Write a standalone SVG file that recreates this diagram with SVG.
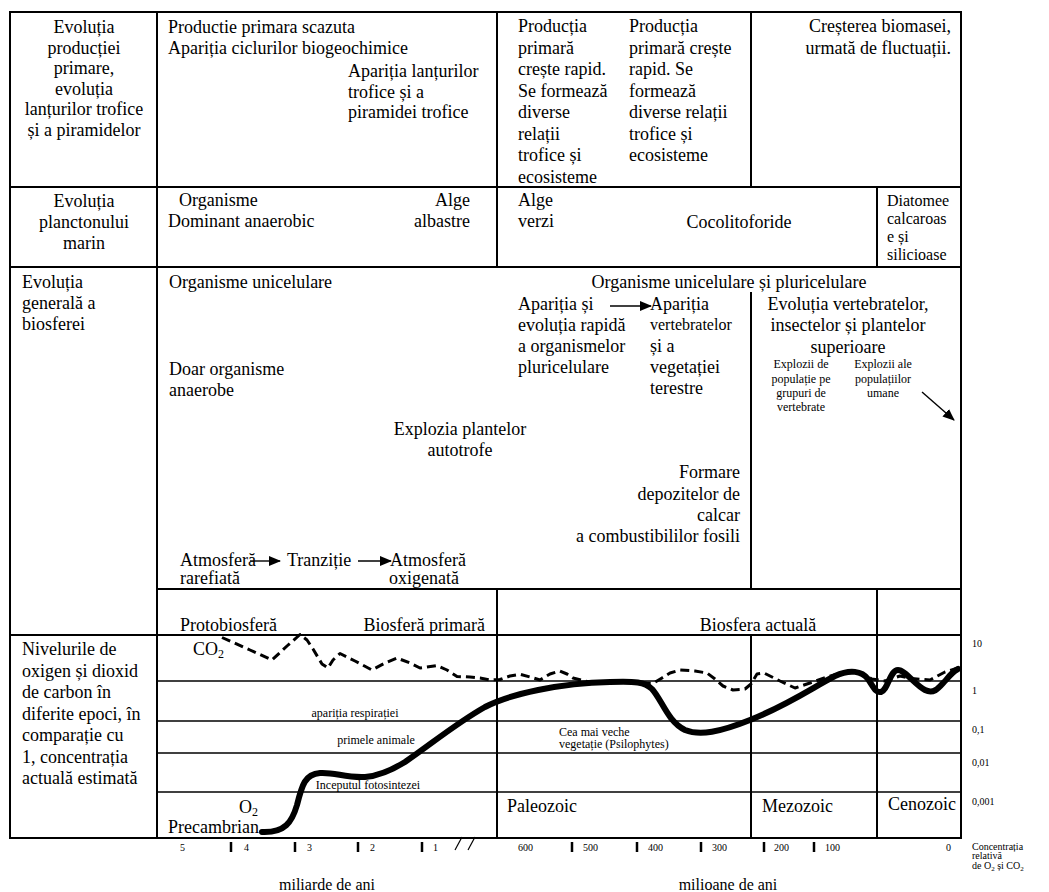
<svg xmlns="http://www.w3.org/2000/svg" width="1049" height="892" viewBox="0 0 1049 892">
<style>
text{font-family:"Liberation Serif","Times New Roman",serif;font-size:18px;fill:#000}
.s{font-size:12px}
.m{font-size:16px}
.ax{font-size:10px}
.c{text-anchor:middle}
.e{text-anchor:end}
.ln{stroke:#000;stroke-width:2;fill:none}
.gl{stroke:#000;stroke-width:1.7;fill:none}
.arr{stroke:#000;stroke-width:1.4;fill:none;marker-end:url(#ah)}
.tick{stroke:#000;stroke-width:2.5}
</style>
<defs>
<marker id="ah" markerUnits="userSpaceOnUse" markerWidth="12" markerHeight="10" refX="11" refY="5" orient="auto">
<path d="M0,0 L12,5 L0,10 Z" fill="#000"/>
</marker>
</defs>
<rect width="1049" height="892" fill="#fff"/>
<g id="table-lines">
<rect class="ln" x="10" y="12" width="951" height="826"/>
<line class="ln" x1="157" y1="12" x2="157" y2="838"/>
<line class="ln" x1="10" y1="187" x2="961" y2="187"/>
<line class="ln" x1="10" y1="267" x2="961" y2="267"/>
<line class="ln" x1="157" y1="589" x2="961" y2="589"/>
<line class="ln" x1="10" y1="635" x2="961" y2="635"/>
<line class="ln" x1="497" y1="12" x2="497" y2="267"/>
<line class="ln" x1="497" y1="589" x2="497" y2="838"/>
<line class="ln" x1="751" y1="12" x2="751" y2="187"/>
<line class="ln" x1="751" y1="292" x2="751" y2="589"/>
<line class="ln" x1="751" y1="635" x2="751" y2="838"/>
<line class="ln" x1="877" y1="187" x2="877" y2="267"/>
<line class="ln" x1="877" y1="589" x2="877" y2="838"/>
<line class="gl" x1="157" y1="681" x2="961" y2="681"/>
<line class="gl" x1="157" y1="721" x2="961" y2="721"/>
<line class="gl" x1="157" y1="753" x2="961" y2="753"/>
<line class="gl" x1="157" y1="792" x2="961" y2="792"/>
</g>
<g id="row-productie">
<text class="c" x="84" y="33">Evoluția</text>
<text class="c" x="84" y="53.5">producției</text>
<text class="c" x="84" y="74">primare,</text>
<text class="c" x="84" y="94.5">evoluția</text>
<text class="c" x="84" y="115">lanțurilor trofice</text>
<text class="c" x="84" y="135.5">și a piramidelor</text>
<text x="168" y="33">Productie primara scazuta</text>
<text x="168" y="53.5">Apariția ciclurilor biogeochimice</text>
<text x="348" y="77">Apariția lanțurilor</text>
<text x="348" y="97.5">trofice și a</text>
<text x="348" y="118">piramidei trofice</text>
<text x="518" y="32">Producția</text>
<text x="518" y="53.5">primară</text>
<text x="518" y="75">crește rapid.</text>
<text x="518" y="96.5">Se formează</text>
<text x="518" y="118">diverse</text>
<text x="518" y="139.5">relații</text>
<text x="518" y="161">trofice și</text>
<text x="518" y="182.5">ecosisteme</text>
<text x="629" y="32">Producția</text>
<text x="629" y="53.5">primară crește</text>
<text x="629" y="75">rapid. Se</text>
<text x="629" y="96.5">formează</text>
<text x="629" y="118">diverse relații</text>
<text x="629" y="139.5">trofice și</text>
<text x="629" y="161">ecosisteme</text>
<text class="e" x="951" y="32">Creșterea biomasei,</text>
<text class="e" x="951" y="53.5">urmată de fluctuații.</text>
</g>
<g id="row-plancton">
<text class="c" x="84" y="207">Evoluția</text>
<text class="c" x="84" y="228">planctonului</text>
<text class="c" x="84" y="249">marin</text>
<text x="179" y="206">Organisme</text>
<text x="168" y="227">Dominant anaerobic</text>
<text class="e" x="470" y="206">Alge</text>
<text class="e" x="470" y="227">albastre</text>
<text x="518" y="206">Alge</text>
<text x="518" y="227">verzi</text>
<text class="c" x="739" y="228">Cocolitoforide</text>
<text class="m" x="887" y="206">Diatomee</text>
<text class="m" x="887" y="224">calcaroas</text>
<text class="m" x="887" y="242">e și</text>
<text class="m" x="887" y="260">silicioase</text>
</g>
<g id="row-biosfera">
<text x="22" y="288">Evoluția</text>
<text x="22" y="309">generală a</text>
<text x="22" y="330">biosferei</text>
<text x="169" y="288">Organisme unicelulare</text>
<text class="c" x="729" y="288">Organisme unicelulare și pluricelulare</text>
<text x="169" y="375">Doar organisme</text>
<text x="169" y="396">anaerobe</text>
<text class="c" x="460" y="435">Explozia plantelor</text>
<text class="c" x="460" y="456">autotrofe</text>
<text x="518" y="310">Apariția și</text>
<text x="518" y="331">evoluția rapidă</text>
<text x="518" y="352">a organismelor</text>
<text x="518" y="373">pluricelulare</text>
<text x="650" y="310">Apariția</text>
<text class="m" x="650" y="330">vertebratelor</text>
<text x="650" y="352">și a</text>
<text x="650" y="373">vegetației</text>
<text x="650" y="394">terestre</text>
<text class="c" x="848" y="310">Evoluția vertebratelor,</text>
<text class="c" x="848" y="331">insectelor și plantelor</text>
<text class="c" x="848" y="353">superioare</text>
<text class="s c" x="801" y="368">Explozii de</text>
<text class="s c" x="801" y="382.5">populație pe</text>
<text class="s c" x="801" y="397">grupuri de</text>
<text class="s c" x="801" y="411">vertebrate</text>
<text class="s c" x="883" y="368">Explozii ale</text>
<text class="s c" x="883" y="382.5">populațiilor</text>
<text class="s c" x="883" y="397">umane</text>
<text class="e" x="740" y="478">Formare</text>
<text class="e" x="740" y="499.5">depozitelor de</text>
<text class="e" x="740" y="521">calcar</text>
<text class="e" x="740" y="542">a combustibililor fosili</text>
<text x="180" y="566">Atmosferă</text>
<text x="287" y="566">Tranziție</text>
<text x="390" y="566">Atmosferă</text>
<text x="180" y="584">rarefiată</text>
<text x="389" y="584">oxigenată</text>
<text x="180" y="631">Protobiosferă</text>
<text class="e" x="485" y="631">Biosferă primară</text>
<text class="c" x="758" y="631">Biosfera actuală</text>
</g>
<g id="row-niveluri">
<text x="22" y="655">Nivelurile de</text>
<text x="22" y="676.5">oxigen și dioxid</text>
<text x="22" y="698">de carbon în</text>
<text x="22" y="719.5">diferite epoci, în</text>
<text x="22" y="741">comparație cu</text>
<text x="22" y="762.5">1, concentrația</text>
<text x="22" y="784">actuală estimată</text>
<text x="193" y="655">CO<tspan font-size="12" dy="3">2</tspan></text>
<text x="239" y="813">O<tspan font-size="12" dy="3">2</tspan></text>
<text x="168" y="833">Precambrian</text>
<text class="s c" x="355" y="717">apariția respirației</text>
<text class="s c" x="376" y="744">primele animale</text>
<text class="s c" x="368" y="789">Inceputul fotosintezei</text>
<text class="s" x="559" y="736">Cea mai veche</text>
<text class="s" x="559" y="748">vegetație (Psilophytes)</text>
<text x="507" y="812">Paleozoic</text>
<text x="762" y="812">Mezozoic</text>
<text x="888" y="810">Cenozoic</text>
</g>
<g id="curves">
<path d="M222,637.5 L250,650 L272,660 L287,646 L300,634.5 L307,640 L313,649 L322,664 L328,668 L333,660 L340,653.5 L355,661 L372,670 L385,663 L397,658 L410,663 L420,668 L437,665.5 L447,670 L457,676.5 L470,677 L480,678 L490,680 L500,679.5 L510,676 L520,674.3 L530,677 L540,680 L550,674 L560,671 L567,674 L573,678 L587,681.5 L620,681.5 L653,683.5 L662,678 L670,673 L680,670 L695,671 L707,673 L715,679 L723,686 L733,690 L745,689 L751,684 L757,674 L764,673 L780,681 L795,688 L810,683 L827,677 L845,672 L860,673 L872,679 L885,681 L900,676 L912,678.5 L930,680 L945,672 L958,668" fill="none" stroke="#000" stroke-width="3" stroke-dasharray="9 5" stroke-linejoin="round"/>
<path d="M262,832 C285,833 292,822 297,805 C302,785 305,774 320,773 C335,772 345,778 365,777 C380,776 392,770 405,762 C430,745 455,724 485,707 C510,694 560,683 610,682 C635,681 645,682 652,689 C662,700 668,722 685,730 C700,736 720,732 750,720 C790,704 815,686 835,676 C850,669 862,671 868,679 C874,688 876,693 881,692 C888,690 890,670 898,670 C905,670 915,685 925,690 C935,695 940,686 946,680 C950,675 954,671 958,669" fill="none" stroke="#000" stroke-width="6" stroke-linecap="round"/>
</g>
<g id="axis">
<line class="tick" x1="231" y1="842" x2="231" y2="852"/>
<line class="tick" x1="295" y1="842" x2="295" y2="852"/>
<line class="tick" x1="358" y1="842" x2="358" y2="852"/>
<line class="tick" x1="422" y1="842" x2="422" y2="852"/>
<line class="tick" x1="572" y1="842" x2="572" y2="852"/>
<line class="tick" x1="637" y1="842" x2="637" y2="852"/>
<line class="tick" x1="701" y1="842" x2="701" y2="852"/>
<line class="tick" x1="764" y1="842" x2="764" y2="852"/>
<line class="tick" x1="814" y1="842" x2="814" y2="852"/>
<line x1="455" y1="850" x2="462" y2="837" stroke="#000" stroke-width="1.2"/>
<line x1="468" y1="850" x2="475" y2="837" stroke="#000" stroke-width="1.2"/>
<text class="ax" x="180" y="851">5</text>
<text class="ax" x="244" y="851">4</text>
<text class="ax" x="307" y="851">3</text>
<text class="ax" x="370" y="851">2</text>
<text class="ax" x="433" y="851">1</text>
<text class="ax" x="518" y="851">600</text>
<text class="ax" x="583" y="851">500</text>
<text class="ax" x="648" y="851">400</text>
<text class="ax" x="712" y="851">300</text>
<text class="ax" x="774" y="851">200</text>
<text class="ax" x="825" y="851">100</text>
<text class="ax" x="946" y="851">0</text>
<text class="ax" x="972" y="647">10</text>
<text class="ax" x="972" y="694">1</text>
<text class="ax" x="972" y="733">0,1</text>
<text class="ax" x="972" y="766">0,01</text>
<text class="ax" x="972" y="805">0,001</text>
<text class="ax" x="972" y="850">Concentrația</text>
<text class="ax" x="972" y="859">relativă</text>
<text class="ax" x="972" y="869">de O<tspan font-size="7" dy="2">2</tspan><tspan dy="-2"> și CO</tspan><tspan font-size="7" dy="2">2</tspan></text>
<text class="m c" x="327" y="890">miliarde de ani</text>
<text class="m c" x="728" y="890">milioane de ani</text>
</g>
<g id="connectors">
<line class="arr" x1="250" y1="561" x2="280" y2="561"/>
<line class="arr" x1="358" y1="561" x2="391" y2="561"/>
<line class="arr" x1="610" y1="306" x2="651" y2="306"/>
<line class="arr" x1="922" y1="392" x2="954" y2="420"/>
</g>
</svg>
